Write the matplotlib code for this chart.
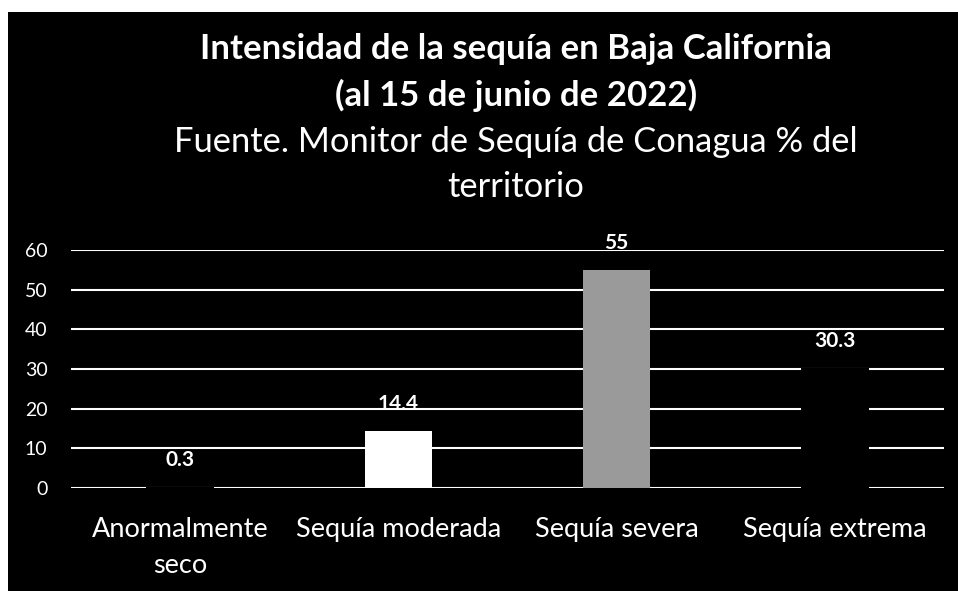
import matplotlib
matplotlib.use("Agg")
import matplotlib.pyplot as plt
from matplotlib.patches import Rectangle

categories = ["Anormalmente\nseco", "Sequía moderada", "Sequía severa", "Sequía extrema"]
values = [0.3, 14.4, 55, 30.3]
value_labels = ["0.3", "14.4", "55", "30.3"]
bar_colors = ["#000000", "#ffffff", "#9a9a9a", "#000000"]
yticks = [0, 10, 20, 30, 40, 50, 60]

W, H = 958, 591
fig = plt.figure(figsize=(W / 100, H / 100), dpi=100)
fig.patch.set_facecolor("white")
fig.patches.append(Rectangle((8 / W, 0), 1 - 8 / W, 1 - 12 / H, transform=fig.transFigure,
                             facecolor="black", edgecolor="none", zorder=-5))

ax = fig.add_axes([71 / W, 1 - 488 / H, (944 - 71) / W, (488 - 250) / H])
ax.set_zorder(2)
ax.set_facecolor("none")
x = range(len(categories))
ax.bar(x, values, width=0.31, color=bar_colors, zorder=3)
ax.set_xlim(-0.5, 3.5)
ax.set_ylim(0, 60)
ax.set_yticks(yticks)
ax.grid(axis="y", color="white", linewidth=1.5, zorder=1)
ax.set_axisbelow(True)
for s in ax.spines.values():
    s.set_visible(False)
ax.tick_params(axis="both", length=0, colors="white")
ax.set_yticklabels([str(t) for t in yticks], fontsize=14, color="white", family="Lato")
ax.tick_params(axis="y", pad=17)
ax.set_xticks(list(x))
ax.set_xticklabels(categories, fontsize=19.5, color="white", family="Lato", linespacing=1.52)
ax.tick_params(axis="x", pad=21)
for i, (v, lab) in enumerate(zip(values, value_labels)):
    ax.annotate(lab, (i, v), xytext=(0, 19), textcoords="offset points", ha="center", va="center",
                fontsize=15, fontweight="bold", color="white", family="Lato")

cx = 516 / W
fig.text(cx, 1 - 59 / H, "Intensidad de la sequía en Baja California", ha="center", va="baseline",
         fontsize=25, fontweight="bold", color="white", family="Lato")
fig.text(cx, 1 - 106 / H, "(al 15 de junio de 2022)", ha="center", va="baseline",
         fontsize=25, fontweight="bold", color="white", family="Lato")
fig.text(cx, 1 - 152 / H, "Fuente. Monitor de Sequía de Conagua % del", ha="center", va="baseline",
         fontsize=24.8, color="white", family="Lato")
fig.text(cx, 1 - 197 / H, "territorio", ha="center", va="baseline",
         fontsize=24.8, color="white", family="Lato")

fig.savefig("out.png", dpi=100, facecolor=fig.get_facecolor())
